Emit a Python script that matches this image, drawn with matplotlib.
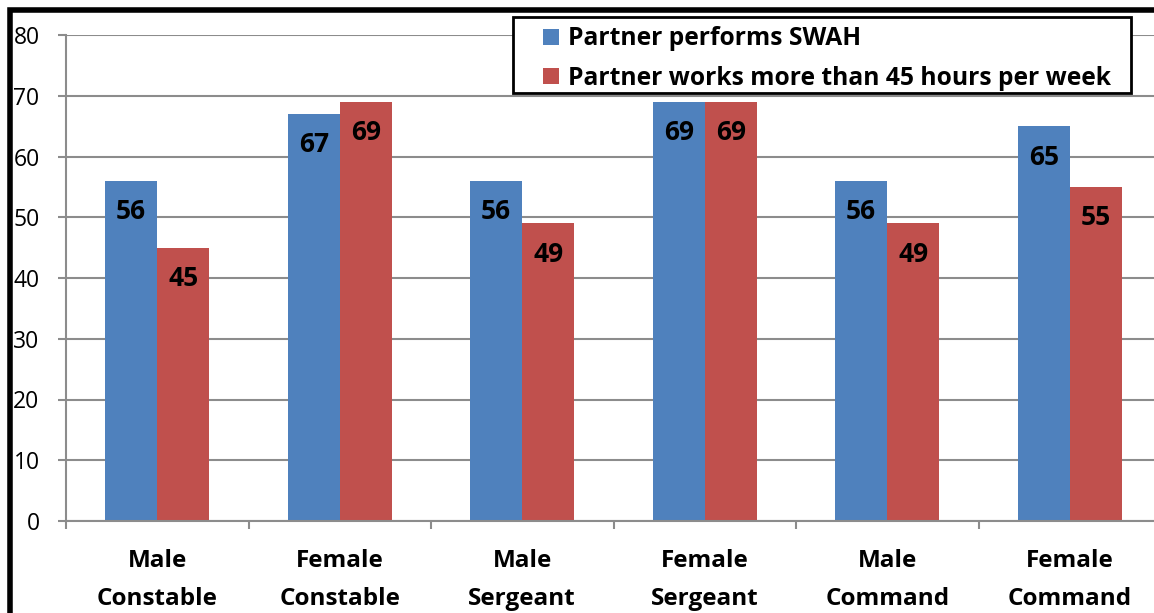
import matplotlib
matplotlib.use("Agg")
import matplotlib.pyplot as plt
import numpy as np
from matplotlib.patches import Rectangle

categories = ["Male\nConstable", "Female\nConstable", "Male\nSergeant",
              "Female\nSergeant", "Male\nCommand", "Female\nCommand"]
series_names = ["Partner performs SWAH", "Partner works more than 45 hours per week"]
swah = [56, 67, 56, 69, 56, 65]
hours45 = [45, 69, 49, 69, 49, 55]
yticks = [0, 10, 20, 30, 40, 50, 60, 70, 80]

blue = "#4F81BD"
red = "#C0504D"
grid_c = "#8C8C8C"

plt.rcParams['font.family'] = ['Open Sans', 'DejaVu Sans']

W, H = 1154, 613
fig = plt.figure(figsize=(W / 100, H / 100), dpi=100)
ax_left = 66 / W
ax_right = 1161 / W
ax_bottom = 1 - 521 / H
ax_top = 1 - 35 / H
ax = fig.add_axes([ax_left, ax_bottom, ax_right - ax_left, ax_top - ax_bottom])

x = np.arange(len(categories))
bw = 0.285
b1 = ax.bar(x - bw / 2, swah, bw, color=blue, label=series_names[0])
b2 = ax.bar(x + bw / 2, hours45, bw, color=red, label=series_names[1])

label_off = 5.1  # data units below bar top
for xi, v in zip(x, swah):
    ax.text(xi - bw / 2, v - label_off, str(v), ha="center", va="center",
            fontsize=19, fontweight="bold", color="black")
for xi, v in zip(x, hours45):
    ax.text(xi + bw / 2, v - label_off, str(v), ha="center", va="center",
            fontsize=19, fontweight="bold", color="black")

ax.set_xlim(-0.5, len(categories) - 0.5)
ax.set_ylim(0, 80)
ax.set_yticks(yticks)
ax.set_yticklabels([str(t) for t in yticks], fontsize=16.5)
ax.yaxis.grid(True, color=grid_c, linewidth=1.5)
ax.set_axisbelow(True)

ax.set_xticks(np.arange(-0.5, len(categories) + 0.5, 1))
ax.set_xticklabels([])
ax.set_xticks(x, minor=True)
ax.set_xticklabels(categories, minor=True, fontsize=17.5, fontweight="bold",
                   linespacing=1.75)
ax.tick_params(axis="x", which="minor", length=0, pad=20.5)
ax.tick_params(axis="x", which="major", length=6, width=1.5, color=grid_c, direction="out")
ax.tick_params(axis="y", length=6, width=1.5, color=grid_c, pad=13)

for s in ["top", "right"]:
    ax.spines[s].set_visible(False)
for s in ["left", "bottom"]:
    ax.spines[s].set_color(grid_c)
    ax.spines[s].set_linewidth(1.5)

# legend frame
fig.patches.append(Rectangle((513 / W, 1 - 93 / H), (1131 - 513) / W, 76 / H,
                             transform=fig.transFigure, facecolor="white",
                             edgecolor="black", linewidth=2, zorder=9))
leg = fig.legend(handles=[b1, b2], loc="center left",
                 bbox_to_anchor=(543 / W, 1 - 58.5 / H),
                 frameon=False,
                 prop={"size": 17.7, "weight": "bold"},
                 handlelength=0.65, handleheight=0.65, handletextpad=0.37,
                 labelspacing=0.58, borderpad=0, borderaxespad=0)
leg.set_zorder(10)

fig.patches.append(Rectangle((9.5 / W, -0.1), 1.2, 1 - 9.5 / H + 0.1,
                             transform=fig.transFigure, fill=False,
                             edgecolor="black", linewidth=4, zorder=20))

fig.savefig("out.png", dpi=100)
